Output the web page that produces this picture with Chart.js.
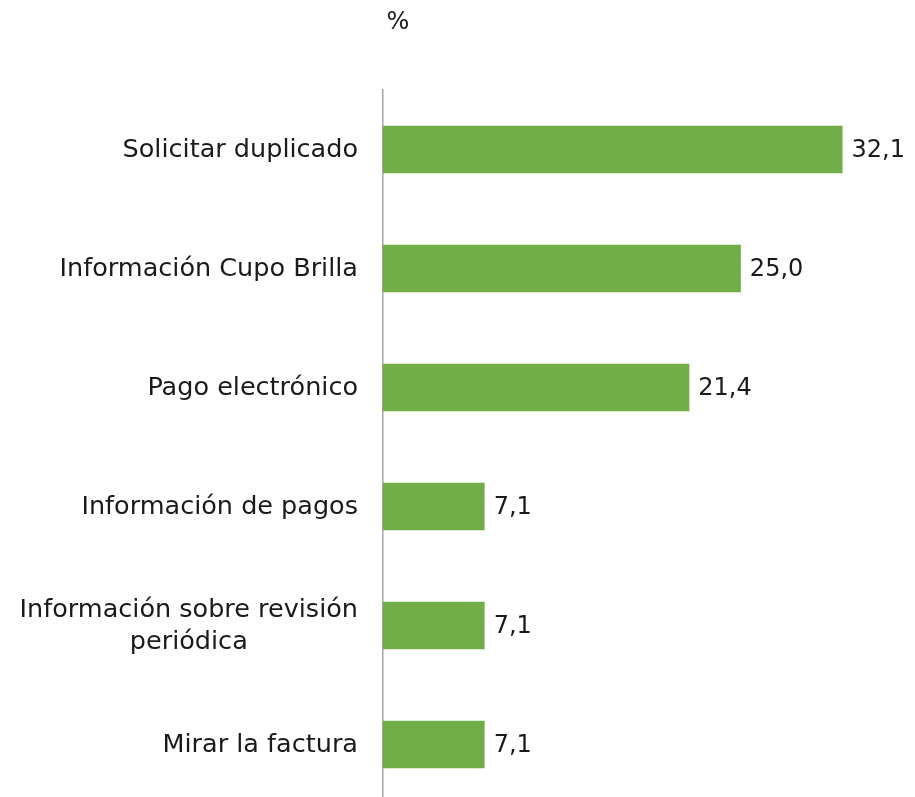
<!DOCTYPE html>
<html>
<head>
<meta charset="utf-8">
<script src="https://cdn.jsdelivr.net/npm/chart.js@4/dist/chart.umd.min.js"></script>
<style>
  body { margin: 0; background: #fff; overflow: hidden; }
  #wrap { width: 915px; height: 797px; overflow: hidden; }
</style>
</head>
<body>
<div id="wrap"><canvas id="barChart" width="915" height="810"></canvas></div>
<script>
const categories = [
    'Solicitar duplicado',
    'Información Cupo Brilla',
    'Pago electrónico',
    'Información de pagos',
    ['Información sobre revisión', 'periódica'],
    'Mirar la factura'
];
const values = [32.1, 25.0, 21.4, 7.1, 7.1, 7.1];
const unitLabel = '%';

const fontFamily = '"Century Gothic", "DejaVu Sans", sans-serif';
const textColor = '#1a1a1a';

// category labels: block right-aligned to the axis, lines centred inside it (like Excel)
const categoryLabels = {
    id: 'categoryLabels',
    afterDraw(chart) {
        const ctx = chart.ctx;
        const yScale = chart.scales.y;
        const right = chart.chartArea.left - 25;
        const lineH = 32;
        ctx.save();
        ctx.font = '25.5px ' + fontFamily;
        ctx.fillStyle = textColor;
        ctx.textBaseline = 'middle';
        ctx.textAlign = 'center';
        categories.forEach((lab, i) => {
            const lines = Array.isArray(lab) ? lab : [lab];
            const w = Math.max(...lines.map(l => ctx.measureText(l).width));
            const cx = right - w / 2;
            const y0 = yScale.getPixelForTick(i) - (lines.length - 1) * lineH / 2;
            lines.forEach((l, j) => ctx.fillText(l, cx, y0 + j * lineH + 1));
        });
        ctx.restore();
    }
};

// value labels at the end of each bar, comma decimal
const valueLabels = {
    id: 'valueLabels',
    afterDatasetsDraw(chart) {
        const ctx = chart.ctx;
        const meta = chart.getDatasetMeta(0);
        ctx.save();
        ctx.font = '24px ' + fontFamily;
        ctx.fillStyle = textColor;
        ctx.textBaseline = 'middle';
        ctx.textAlign = 'left';
        meta.data.forEach((bar, i) => {
            const txt = values[i].toFixed(1).replace('.', ',');
            ctx.fillText(txt, bar.x + 9, bar.y + 1);
        });
        // the "%" unit above the axis
        ctx.textAlign = 'center';
        ctx.fillText(unitLabel, chart.chartArea.left + 15, 23);
        ctx.restore();
    }
};

const ctx = document.getElementById('barChart');
new Chart(ctx, {
    type: 'bar',
    data: {
        labels: categories,
        datasets: [{
            data: values,
            backgroundColor: '#70ad47',
            categoryPercentage: 1,
            barPercentage: 0.4
        }]
    },
    options: {
        indexAxis: 'y',
        responsive: false,
        animation: false,
        layout: { padding: { top: 90, right: 31, bottom: 6, left: 0 } },
        plugins: {
            legend: { display: false },
            tooltip: { enabled: false }
        },
        scales: {
            x: {
                display: false,
                min: 0,
                max: 35
            },
            y: {
                grid: { display: false, drawTicks: false },
                border: { color: '#a6a6a6', width: 1.5 },
                ticks: { display: false },
                afterFit(scale) { scale.width = 383; }
            }
        }
    },
    plugins: [categoryLabels, valueLabels]
});
</script>
</body>
</html>
